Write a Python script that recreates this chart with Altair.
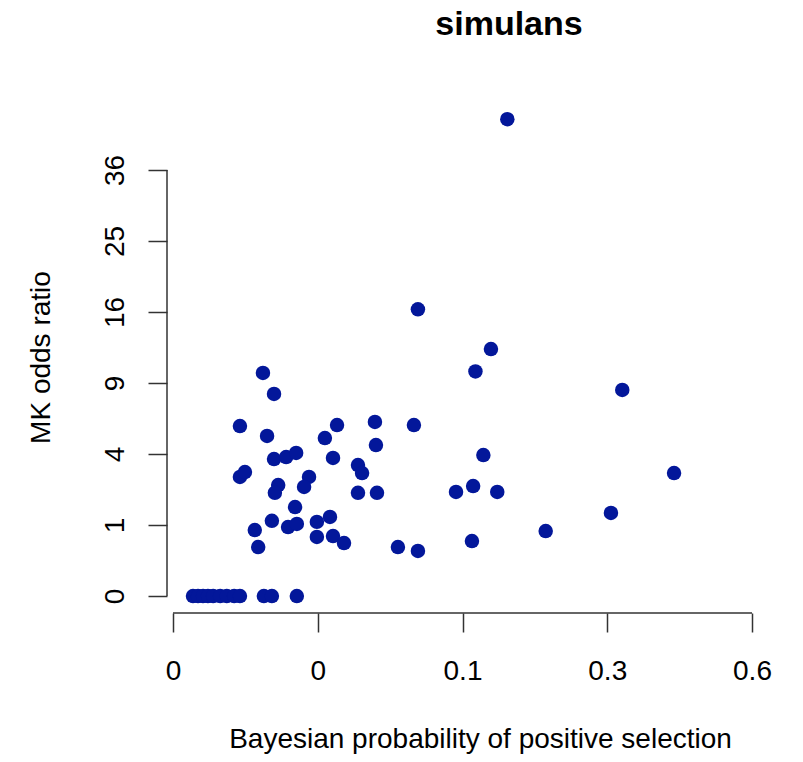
import altair as alt
import pandas as pd

# Bayesian probability of positive selection (x) and MK odds ratio (y) per gene
prob = [
    0.00818, 0.00876, 0.00937, 0.0100, 0.0107, 0.0117, 0.0127, 0.0139, 0.0149,
    0.0196, 0.0214, 0.0278,
    0.0194, 0.0219, 0.0149, 0.0203, 0.0410, 0.0366, 0.0219, 0.0249, 0.0276,
    0.0395, 0.0149, 0.0158, 0.0229, 0.0221, 0.0314, 0.0299, 0.0495, 0.0513,
    0.0495, 0.0583, 0.0573, 0.0787, 0.0578, 0.0273, 0.0214, 0.0177, 0.0184,
    0.0254, 0.0278, 0.0339, 0.0339, 0.0384, 0.0395, 0.0437, 0.0693, 0.0812,
    0.0812, 0.138, 0.124, 0.131, 0.108, 0.122, 0.144, 0.121, 0.197, 0.154,
    0.309, 0.408, 0.290,
]
odds = [
    0, 0, 0, 0, 0, 0, 0, 0, 0,
    0, 0, 0,
    9.87, 8.10, 5.73, 5.08, 5.80, 4.95, 3.72, 3.83, 4.06,
    3.78, 2.81, 3.05, 2.44, 2.11, 2.81, 2.36, 3.40, 3.00,
    2.11, 2.11, 6.01, 5.80, 4.52, 1.57, 1.12, 0.864, 0.476,
    0.944, 1.03, 1.09, 0.691, 1.24, 0.714, 0.557, 0.476, 0.402,
    16.3, 12.1, 10.0, 3.94, 2.15, 2.40, 2.15, 0.600, 0.838, 45.1,
    8.42, 3.00, 1.37,
]

# axis ticks (x on a fourth-root scale, y on a square-root scale)
x_ticks = [0.00614656, 0.03418801, 0.11316496, 0.28398241, 0.59969536]
y_ticks = [0, 1, 4, 9, 16, 25, 36]

x_domain = [0.0056183, 0.72418]
y_domain = [-0.0573, 49]

W, H = 626, 514
FONT = "Liberation Sans"
POINT = "#03179A"
AXIS = "#333333"

df = pd.DataFrame({"prob": prob, "odds": odds})

x_scale = alt.Scale(type="pow", exponent=0.25, domain=x_domain, nice=False, zero=False)
y_scale = alt.Scale(type="sqrt", domain=y_domain, nice=False, zero=False)

x_axis = alt.Axis(
    values=x_ticks,
    labelExpr="toString(round(datum.value * 10) / 10)",
    domain=False, grid=False,
    tickSize=19, tickWidth=1.5, tickColor=AXIS,
    labelFont=FONT, labelFontSize=28, labelColor="black", labelPadding=25,
    labelFlush=False, labelOverlap=False,
    title="Bayesian probability of positive selection",
    titleFont=FONT, titleFontSize=28, titleFontWeight="normal", titleColor="black",
    titleX=313, titleY=134, titleAlign="center", titleBaseline="alphabetic",
)
y_axis = alt.Axis(
    values=y_ticks,
    domain=False, grid=False,
    tickSize=19, tickWidth=1.5, tickColor=AXIS,
    labelFont=FONT, labelFontSize=28, labelColor="black", labelPadding=25,
    labelAngle=-90, labelAlign="center", labelBaseline="alphabetic",
    labelFlush=False, labelOverlap=False,
    title="MK odds ratio",
    titleFont=FONT, titleFontSize=28, titleFontWeight="normal", titleColor="black",
    titleAngle=270, titleX=-118, titleY=258, titleAlign="center", titleBaseline="alphabetic",
)

points = alt.Chart(df).mark_circle(size=210, opacity=1, color=POINT).encode(
    x=alt.X("prob:Q", scale=x_scale, axis=x_axis),
    y=alt.Y("odds:Q", scale=y_scale, axis=y_axis),
)

# axis lines spanning only from the first to the last tick
one = alt.Data(values=[{}])
y_line = alt.Chart(one).mark_rule(color=AXIS, strokeWidth=1.5).encode(
    x=alt.value(0), y=alt.datum(y_ticks[0]), y2=alt.datum(y_ticks[-1])
)
x_line = alt.Chart(one).mark_rule(color=AXIS, strokeWidth=1.5).encode(
    y=alt.value(H), x=alt.datum(x_ticks[0]), x2=alt.datum(x_ticks[-1])
)

chart = alt.layer(points, y_line, x_line).properties(
    width=W, height=H,
    background="white",
    title=alt.TitleParams(
        "simulans", font=FONT, fontSize=34, fontWeight="bold", color="black",
        anchor="middle", dx=29, offset=30, baseline="alphabetic",
    ),
    autosize=alt.AutoSizeParams(type="none"),
    padding={"left": 167, "top": 99, "right": 10, "bottom": 149},
).configure_view(strokeWidth=0, stroke="transparent")

chart.save("out.html", embed_options={"renderer": "svg", "actions": False})
